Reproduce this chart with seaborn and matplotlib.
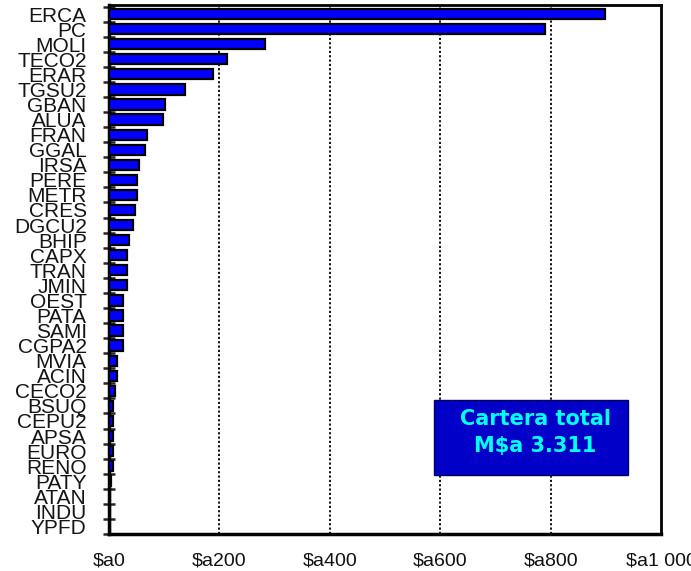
import matplotlib
matplotlib.use("Agg")
import matplotlib.pyplot as plt
import seaborn as sns
import pandas as pd
from matplotlib.patches import Rectangle
from matplotlib.ticker import MultipleLocator, FixedLocator

categories = ["ERCA", "PC", "MOLI", "TECO2", "ERAR", "TGSU2", "GBAN", "ALUA", "FRAN",
              "GGAL", "IRSA", "PERE", "METR", "CRES", "DGCU2", "BHIP", "CAPX", "TRAN",
              "JMIN", "OEST", "PATA", "SAMI", "CGPA2", "MVIA", "ACIN", "CECO2", "BSUQ",
              "CEPU2", "APSA", "EURO", "RENO", "PATY", "ATAN", "INDU", "YPFD"]
values = [898, 789, 282, 214, 188, 138, 101, 98, 69,
          65, 54, 50, 50, 47, 43, 36, 33, 33,
          33, 25, 25, 25, 25, 14, 14, 11, 8,
          7, 7, 7, 7.5, 3, 2, 2, 2]
xticks = [0, 200, 400, 600, 800, 1000]
xtick_labels = ["$a0", "$a200", "$a400", "$a600", "$a800", "$a1 000"]
box_text = "Cartera total\nM$a 3.311"

df = pd.DataFrame({"cat": categories, "val": values})

sns.set_style("white")
plt.rcParams['font.family'] = ['Liberation Sans', 'DejaVu Sans']

fig = plt.figure(figsize=(6.91, 5.71), dpi=100)
ax = fig.add_axes([0.1577, 0.0648, 0.7989, 0.9264])

ax.set_axisbelow(True)
sns.barplot(data=df, x="val", y="cat", orient="h", color="#0000FF", saturation=1,
            edgecolor="black", linewidth=1.6, width=0.68, ax=ax, zorder=3)

ax.set_xlim(0, 1000)
ax.set_ylim(len(categories) - 0.5, -0.6)
ax.set_xlabel("")
ax.set_ylabel("")

ax.set_xticks(xticks)
ax.set_xticklabels(xtick_labels, fontsize=14, color="#111111")
ax.xaxis.set_minor_locator(MultipleLocator(100))
ax.tick_params(axis="x", which="major", direction="in", length=6, width=1.8, pad=13)
ax.tick_params(axis="x", which="minor", direction="in", length=5, width=1.8)

ax.set_yticks(range(len(categories)))
ax.set_yticklabels(categories, fontsize=15, color="#151515")
ax.yaxis.set_minor_locator(FixedLocator([i + 0.5 for i in range(-1, len(categories))]))
ax.tick_params(axis="y", which="major", length=0, pad=16)
ax.tick_params(axis="y", which="minor", direction="inout", length=9, width=1.8, left=True)

for v in [200, 400, 600, 800]:
    ax.axvline(v, color="black", linestyle=(0, (1.2, 1.2)), linewidth=1.3, zorder=1)

for side in ["left", "bottom"]:
    ax.spines[side].set_linewidth(2.5)
    ax.spines[side].set_color("black")
for side in ["top", "right"]:
    ax.spines[side].set_linewidth(2)
    ax.spines[side].set_color("black")

bx0, bx1, by0, by1 = 0.5888, 0.9402, 0.1115, 0.2533
ax.add_patch(Rectangle((bx0, by0), bx1 - bx0, by1 - by0, transform=ax.transAxes,
                       facecolor="#0000C8", edgecolor="#000060", linewidth=1, zorder=5))
ax.text((bx0 + bx1) / 2 + 0.008, (by0 + by1) / 2 + 0.01, box_text, transform=ax.transAxes,
        ha="center", va="center", fontsize=15, fontweight="bold", color="#00FFFF",
        family=["DejaVu Sans"], linespacing=1.45, zorder=6)

fig.savefig("out.png", dpi=100)
